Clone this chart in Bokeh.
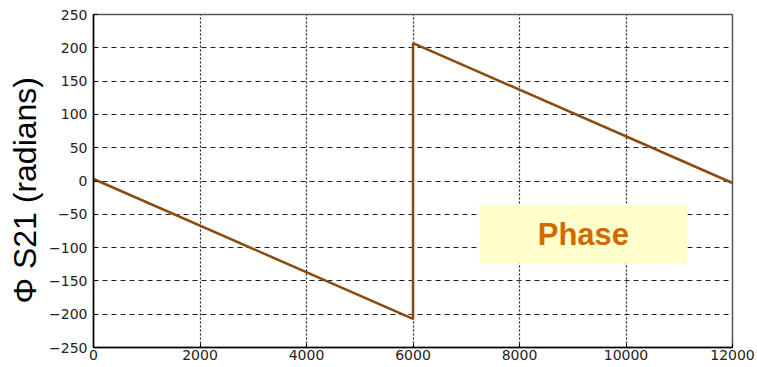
from bokeh.plotting import figure
from bokeh.models import FixedTicker, Range1d, BoxAnnotation, Label, Title
from bokeh.embed import file_html
from bokeh.resources import INLINE

# data
freq = [0, 6000, 6000, 12000]
phase = [3, -207, 207, -3]
x_ticks = [0, 2000, 4000, 6000, 8000, 10000, 12000]
y_ticks = [-250, -200, -150, -100, -50, 0, 50, 100, 150, 200, 250]
box_x = [7250, 11150]
box_y = [-124, -36]
label_text = "Phase"
y_label = "Φ S21 (radians)"

p = figure(width=757, height=367, output_backend="svg", toolbar_location=None,
           x_range=Range1d(0, 12000), y_range=Range1d(-250, 250),
           min_border_left=93, min_border_right=25, min_border_top=14, min_border_bottom=20)
p.background_fill_color = "white"
p.border_fill_color = "white"
p.outline_line_color = "#555555"
p.outline_line_width = 1.5

p.add_layout(BoxAnnotation(left=box_x[0], right=box_x[1], bottom=box_y[0], top=box_y[1],
                           fill_color="#FFFFCC", fill_alpha=1.0, line_color=None, level="underlay"))

p.line(freq, phase, line_color="#8B4A10", line_width=2.5)

p.add_layout(Label(x=(box_x[0] + box_x[1]) / 2, y=(box_y[0] + box_y[1]) / 2, text=label_text,
                   text_align="center", text_baseline="middle", text_color="#D06A00",
                   text_font="Liberation Sans", text_font_style="bold", text_font_size="31px"))

# y-axis title as a left-side title so it can be shifted along the axis
p.add_layout(Title(text=y_label, align="left", offset=44, standoff=8,
                   text_font="Liberation Sans", text_font_style="normal",
                   text_font_size="32px", text_color="black"), "left")

for ax in (p.xaxis[0], p.yaxis[0]):
    ax.axis_line_color = "black"
    ax.axis_line_width = 1.5
    ax.major_tick_in = 4
    ax.major_tick_out = 0
    ax.minor_tick_line_color = None
    ax.major_tick_line_color = "black"
    ax.major_label_text_font = "DejaVu Sans"
    ax.major_label_text_font_size = "14px"
    ax.major_label_text_color = "#222222"

p.xaxis.ticker = FixedTicker(ticks=x_ticks)
p.yaxis.ticker = FixedTicker(ticks=y_ticks)
p.xaxis.major_label_standoff = 2
p.yaxis.major_label_standoff = 6

p.xgrid.ticker = FixedTicker(ticks=x_ticks)
p.ygrid.ticker = FixedTicker(ticks=y_ticks)
p.xgrid.grid_line_color = "#222222"
p.xgrid.grid_line_dash = "2 2"
p.xgrid.grid_line_width = 1.2
p.ygrid.grid_line_color = "#222222"
p.ygrid.grid_line_dash = "5 4"
p.ygrid.grid_line_width = 1.2

open("out.html", "w").write(file_html(p, INLINE))
